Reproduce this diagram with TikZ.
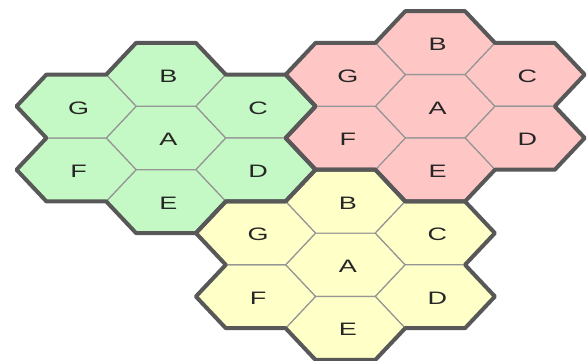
\documentclass[tikz,border=0pt]{standalone}
\usepackage{fontspec}
\setmainfont{Liberation Sans}
\definecolor{gfill}{RGB}{196,248,196}
\definecolor{rfill}{RGB}{255,198,198}
\definecolor{yfill}{RGB}{255,255,200}
\definecolor{edgeout}{RGB}{88,88,88}
\definecolor{edgein}{RGB}{150,150,150}
\tikzset{
  cell/.style={draw=edgein, line width=1.2pt, line join=round},
  outline/.style={draw=edgeout, line width=4pt, line join=round},
  lab/.style={font=\fontsize{18}{18}\selectfont, xscale=1.5, inner sep=0pt, text=black!85},
}
\newcommand\hexat[3]{%
  \path[cell, fill=#3] (#1-1,#2) -- (#1-0.5,#2-1) -- (#1+0.5,#2-1) -- (#1+1,#2) -- (#1+0.5,#2+1) -- (#1-0.5,#2+1) -- cycle;}
\newcommand\clustercells[2]{%
  \hexat{0}{0}{#1}\hexat{0}{-2}{#1}\hexat{1.5}{-1}{#1}\hexat{1.5}{1}{#1}%
  \hexat{0}{2}{#1}\hexat{-1.5}{1}{#1}\hexat{-1.5}{-1}{#1}%
  \node[lab] (#2A) at (0.04,0.05) {A};
  \node[lab] (#2B) at (0.04,-1.95) {B};
  \node[lab] (#2C) at (1.54,-0.95) {C};
  \node[lab] (#2D) at (1.54,1.05) {D};
  \node[lab] (#2E) at (0.04,2.05) {E};
  \node[lab] (#2F) at (-1.46,1.05) {F};
  \node[lab] (#2G) at (-1.46,-0.95) {G};
}
\newcommand\clusteroutline{%
  \path[outline] (-0.5,-3) -- (0.5,-3) -- (1,-2) -- (2,-2) -- (2.5,-1) -- (2,0) -- (2.5,1) -- (2,2) -- (1,2) -- (0.5,3) -- (-0.5,3) -- (-1,2) -- (-2,2) -- (-2.5,1) -- (-2,0) -- (-2.5,-1) -- (-2,-2) -- (-1,-2) -- cycle;}
\begin{document}
\begin{tikzpicture}[x=1pt,y=-1pt]
\useasboundingbox[fill=white] (0,0) rectangle (587,361);
\begin{scope}[shift={(166,138)}, x=59.8pt, y=-31.7pt]
  \clustercells{gfill}{g}
\end{scope}
\begin{scope}[shift={(435.2,106.3)}, x=59.8pt, y=-31.7pt]
  \clustercells{rfill}{r}
\end{scope}
\begin{scope}[shift={(345.4,264.8)}, x=59.8pt, y=-31.7pt]
  \clustercells{yfill}{y}
\end{scope}
\begin{scope}[shift={(166,138)}, x=59.8pt, y=-31.7pt]
  \clusteroutline
\end{scope}
\begin{scope}[shift={(435.2,106.3)}, x=59.8pt, y=-31.7pt]
  \clusteroutline
\end{scope}
\begin{scope}[shift={(345.4,264.8)}, x=59.8pt, y=-31.7pt]
  \clusteroutline
\end{scope}
\end{tikzpicture}
\end{document}
